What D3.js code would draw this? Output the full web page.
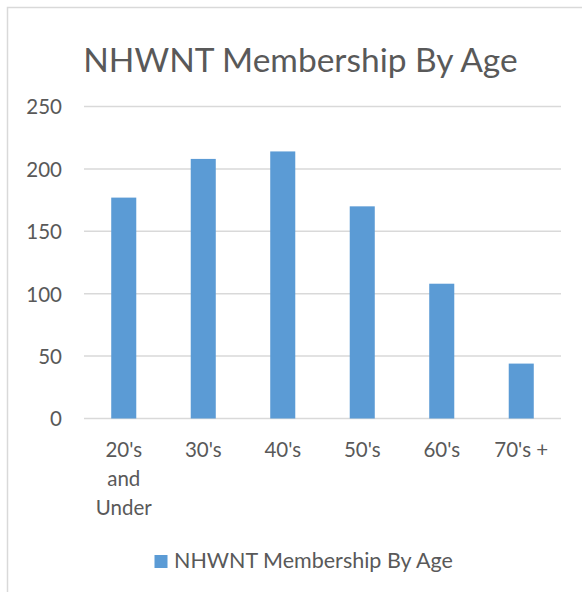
<!DOCTYPE html>
<html>
<head>
<meta charset="utf-8">
<script src="https://cdn.jsdelivr.net/npm/d3@7"></script>
<style>
    body { margin: 0; background: #fff; }
    svg { display: block; }
    text { font-family: Lato, "Open Sans", sans-serif; fill: #595959; }
</style>
</head>
<body>
<div id="chart"></div>
<script>
// chart data
let categories = ["20's and Under", "30's", "40's", "50's", "60's", "70's +"];
let members = [177, 208, 214, 170, 108, 44];
let yTicks = [0, 50, 100, 150, 200, 250];
let chartTitle = "NHWNT Membership By Age";
let seriesName = "NHWNT Membership By Age";

let width = 582, height = 592;
let margin = {top: 106.5, right: 21, bottom: 173.5, left: 84};
let innerW = width - margin.left - margin.right,
    innerH = height - margin.top - margin.bottom;

let svg = d3.select("#chart").append("svg")
    .attr("width", width)
    .attr("height", height);

// chart frame (runs off the right and bottom edges)
svg.append("rect")
    .attr("x", 7.5)
    .attr("y", 7.5)
    .attr("width", 600)
    .attr("height", 600)
    .attr("fill", "none")
    .attr("stroke", "#d9d9d9")
    .attr("stroke-width", 1.5);

// title
svg.append("text")
    .attr("x", 300.5)
    .attr("y", 71.5)
    .attr("text-anchor", "middle")
    .attr("font-size", "33.5px")
    .text(chartTitle);

let g = svg.append("g")
    .attr("transform", `translate(${margin.left},${margin.top})`);

// scales
let x = d3.scaleBand()
    .domain(categories)
    .range([0, innerW])
    .paddingInner(0.685)
    .paddingOuter(0.3425);

let y = d3.scaleLinear()
    .domain([0, 250])
    .range([innerH, 0]);

// gridlines
g.append("g")
    .selectAll("line")
    .data(yTicks)
    .enter()
    .append("line")
    .attr("x1", 0)
    .attr("x2", innerW)
    .attr("y1", d => y(d))
    .attr("y2", d => y(d))
    .attr("stroke", "#d9d9d9")
    .attr("stroke-width", 1.5);

// y axis
let yAxis = d3.axisLeft(y)
    .tickValues(yTicks)
    .tickSize(0)
    .tickPadding(22);

g.append("g")
    .attr("class", "y-axis")
    .call(yAxis)
    .call(sel => sel.select(".domain").remove())
    .selectAll("text")
    .attr("font-size", "20.5px")
    .attr("font-family", "Lato, sans-serif")
    .attr("fill", "#595959")
    .attr("dy", "0.36em");

// bars
g.selectAll(".bar")
    .data(members)
    .enter()
    .append("rect")
    .attr("class", "bar")
    .attr("x", (d, i) => x(categories[i]))
    .attr("y", d => y(d))
    .attr("width", x.bandwidth())
    .attr("height", d => innerH - y(d))
    .attr("fill", "#5b9bd5");

// x axis with wrapped labels
let xAxis = d3.axisBottom(x)
    .tickSize(0)
    .tickPadding(0);

let xg = g.append("g")
    .attr("class", "x-axis")
    .attr("transform", `translate(0,${innerH})`)
    .call(xAxis);

xg.select(".domain").remove();

xg.selectAll("text")
    .attr("font-size", "20.5px")
    .attr("font-family", "Lato, sans-serif")
    .attr("fill", "#595959")
    .attr("dy", null)
    .attr("y", null)
    .call(wrap, 70);

function wrap(texts, maxWidth) {
    texts.each(function () {
        let text = d3.select(this);
        let words = text.text().split(/\s+/);
        text.text(null);
        let lines = [], line = [];
        let tspan = text.append("tspan");
        words.forEach(w => {
            line.push(w);
            tspan.text(line.join(" "));
            if (tspan.node().getComputedTextLength() > maxWidth && line.length > 1) {
                line.pop();
                lines.push(line.join(" "));
                line = [w];
            }
        });
        lines.push(line.join(" "));
        text.text(null);
        lines.forEach((l, i) => {
            text.append("tspan")
                .attr("x", 0)
                .attr("y", 38.8 + i * 29)
                .text(l);
        });
    });
}

// legend
let legend = svg.append("g")
    .attr("transform", "translate(154.5,555)");

legend.append("rect")
    .attr("width", 13)
    .attr("height", 13)
    .attr("fill", "#5b9bd5");

legend.append("text")
    .attr("x", 19.5)
    .attr("y", 13.3)
    .attr("font-size", "21.5px")
    .text(seriesName);
</script>
</body>
</html>
